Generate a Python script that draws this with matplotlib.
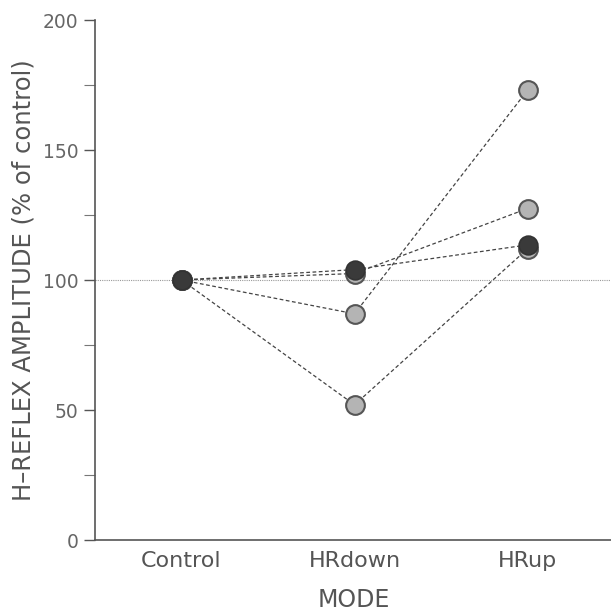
import matplotlib
matplotlib.use("Agg")
import matplotlib.pyplot as plt
from matplotlib.ticker import MultipleLocator

modes = ["Control", "HRdown", "HRup"]
subj_a = [100, 52, 112]
subj_b = [100, 87, 173]
subj_c = [100, 102.5, 127.5]
subj_dark = [100, 104, 113.5]
gray_series = [subj_a, subj_b, subj_c]

W, H = 611, 612
fig = plt.figure(figsize=(W / 100, H / 100), dpi=100)
fig.patch.set_facecolor("white")
ax = fig.add_axes([95 / W, 72 / H, 1 - 95 / W + 0.005, 520 / H])

tc = "#555555"
x = list(range(len(modes)))
ax.axhline(100, color="#999999", lw=0.8, ls=(0, (1, 1)), zorder=1)
for s in gray_series:
    ax.plot(x, s, ls=(0, (3, 2)), color="#444444", lw=0.9, zorder=2)
ax.plot(x, subj_dark, ls=(0, (3, 2)), color="#444444", lw=0.9, zorder=2)
for s in gray_series:
    ax.plot(x, s, ls="none", marker="o", ms=13.5, mfc="#b4b4b4", mec="#555555", mew=1.5, zorder=3)
ax.plot(x, subj_dark, ls="none", marker="o", ms=13.5, mfc="#3a3a3a", mec="#333333", mew=1.2, zorder=4)

ax.set_xlim(-0.5, 2.5)
ax.set_ylim(0, 200)
ax.yaxis.set_major_locator(MultipleLocator(50))
ax.yaxis.set_minor_locator(MultipleLocator(25))
ax.set_xticks(x)
ax.set_xticklabels(modes)
ax.tick_params(axis="x", length=0, pad=8, labelsize=16, labelcolor=tc)
ax.tick_params(axis="y", which="major", length=8, width=1, color=tc, pad=4, labelsize=13.5, labelcolor="#666666")
ax.tick_params(axis="y", which="minor", length=8, width=0.8, color="#777777")
for sp in ["top", "right"]:
    ax.spines[sp].set_visible(False)
for sp in ["left", "bottom"]:
    ax.spines[sp].set_color("#555555")
    ax.spines[sp].set_linewidth(1.2)

fig.text(354 / W, 1 - 600 / H, "MODE", fontsize=17, color=tc, ha="center", va="center")
fig.text(24 / W, 1 - 280 / H, "H\u2013REFLEX AMPLITUDE (% of control)", fontsize=17.5,
         color=tc, rotation=90, ha="center", va="center")

fig.savefig("out.png", dpi=100, facecolor="white")
